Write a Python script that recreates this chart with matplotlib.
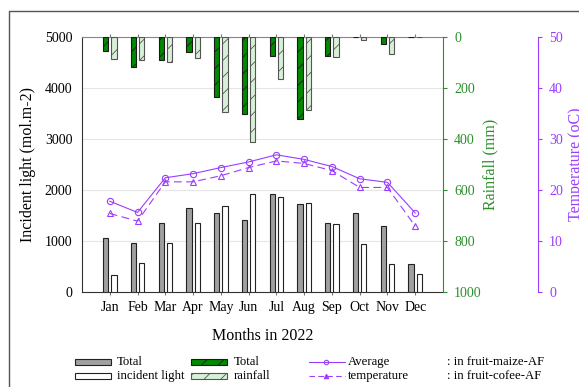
import matplotlib
matplotlib.use("Agg")
import matplotlib.pyplot as plt
from matplotlib.patches import Rectangle
from matplotlib.lines import Line2D
import numpy as np

plt.rcParams['font.family'] = 'serif'
plt.rcParams['font.serif'] = ['Liberation Serif', 'DejaVu Serif']
plt.rcParams['hatch.linewidth'] = 0.6

months = ["Jan", "Feb", "Mar", "Apr", "May", "Jun", "Jul", "Aug", "Sep", "Oct", "Nov", "Dec"]

# incident light (mol.m-2)
luz_maize = [1060, 960, 1350, 1640, 1550, 1410, 1930, 1720, 1350, 1540, 1300, 550]
luz_cofee = [340, 560, 970, 1360, 1690, 1930, 1870, 1740, 1330, 950, 550, 360]

# rainfall (mm)
chuva_maize = [55, 116, 91, 58, 234, 301, 76, 323, 73, 0, 29, 0]
chuva_cofee = [85, 90, 100, 84, 295, 410, 165, 286, 78, 12, 66, 0]

# average temperature (oC)
temp_maize = [17.8, 15.6, 22.4, 23.2, 24.4, 25.5, 26.9, 26.0, 24.6, 22.2, 21.5, 15.5]
temp_cofee = [15.4, 13.9, 21.6, 21.6, 22.8, 24.4, 25.7, 25.2, 23.8, 20.5, 20.5, 12.9]

VERDE = "#008a00"
VERDE_CLARO = "#d8f0d8"
VERDE_TXT = "#2b8f2b"
ROXO = "#9b3dff"

W, H = 579, 387
fig = plt.figure(figsize=(W / 100, H / 100), dpi=100)

def fx(px):
    return px / W

def fy(py):
    return 1 - py / H

ax = fig.add_axes([fx(82), fy(292), fx(443) - fx(82), fy(37) - fy(292)])
x = np.arange(len(months))
d = 0.15
bw = 0.19

# incident light bars
ax.bar(x - d, luz_maize, bw, color="#a0a0a0", edgecolor="#222222", linewidth=0.8, zorder=3)
ax.bar(x + d, luz_cofee, bw, color="white", edgecolor="#222222", linewidth=0.8, zorder=3)
ax.set_ylim(0, 5000)
ax.set_xlim(-1, 12)
ax.set_yticks([0, 1000, 2000, 3000, 4000, 5000])
ax.set_xticks(x)
ax.set_xticklabels(months)
ax.tick_params(axis='y', length=0, pad=7, labelsize=10)
ax.tick_params(axis='x', bottom=True, top=True, direction='out', length=2.5, color="#777777",
               pad=4, labelsize=10)
ax.grid(axis='y', color="#e6e6e6", linewidth=0.8, zorder=0)
ax.spines['top'].set_color("#888888")
ax.spines['left'].set_color("#333333")
ax.spines['bottom'].set_color("#333333")
ax.spines['right'].set_visible(False)
ax.set_ylabel("Incident light (mol.m-2)", fontsize=11.5)
ax.yaxis.set_label_coords(-0.128, 0.5)
ax.set_xlabel("Months in 2022", fontsize=11.5)
ax.xaxis.label.set_va('center')
ax.xaxis.set_label_coords(0.5, -0.1725)

# rainfall bars hanging from the top
ax2 = ax.twinx()
ax2.bar(x - d, chuva_maize, bw, color=VERDE, edgecolor="#1a1a1a", linewidth=0.8,
        hatch="//", zorder=3)
ax2.bar(x + d, chuva_cofee, bw, color=VERDE_CLARO, edgecolor="#555555", linewidth=0.8,
        hatch="//", zorder=3)
ax2.set_ylim(1000, 0)
ax2.set_yticks([0, 200, 400, 600, 800, 1000])
ax2.spines['right'].set_color(VERDE_TXT)
ax2.spines['top'].set_visible(False)
ax2.spines['left'].set_visible(False)
ax2.spines['bottom'].set_visible(False)
ax2.tick_params(axis='y', colors=VERDE_TXT, length=3, pad=5, labelsize=10)
ax2.set_ylabel("Rainfall (mm)", fontsize=11.5, color=VERDE_TXT)
ax2.yaxis.set_label_coords(1.108, 0.5)

# temperature lines on an offset axis
ax3 = ax.twinx()
ax3.spines['right'].set_position(('axes', 1.263))
ax3.spines['right'].set_color(ROXO)
for s in ['top', 'left', 'bottom']:
    ax3.spines[s].set_visible(False)
ax3.plot(x, temp_maize, color=ROXO, linewidth=0.8, marker='o', markersize=4.5,
         markerfacecolor='none', markeredgewidth=0.8)
ax3.plot(x, temp_cofee, color=ROXO, linewidth=0.8, linestyle=(0, (7, 4)), marker='^',
         markersize=4.5, markerfacecolor='none', markeredgewidth=0.8)
ax3.set_ylim(0, 50)
ax3.set_yticks([0, 10, 20, 30, 40, 50])
ax3.tick_params(axis='y', colors=ROXO, length=3, pad=5, labelsize=10)
ax3.set_ylabel("Temperature (oC)", fontsize=11.5, color=ROXO)
ax3.yaxis.set_label_coords(1.345, 0.5)

# legend below the chart
linhas = [362, 376]
leg_kw = dict(fontsize=9.2, va='center', ha='left')

def caixa(x0, x1, linha, **kw):
    fig.patches.append(Rectangle((fx(x0), fy(linha + 3)), fx(x1) - fx(x0), fy(0) - fy(6),
                                 transform=fig.transFigure, linewidth=0.8, **kw))

caixa(75, 111, linhas[0], facecolor="#a0a0a0", edgecolor="#222222")
caixa(75, 111, linhas[1], facecolor="white", edgecolor="#222222")
fig.text(fx(117), fy(linhas[0]), "Total", **leg_kw)
fig.text(fx(117), fy(linhas[1]), "incident light", **leg_kw)

caixa(191, 227, linhas[0], facecolor=VERDE, hatch="//", edgecolor="#1a1a1a")
caixa(191, 227, linhas[1], facecolor=VERDE_CLARO, hatch="//", edgecolor="#555555")
fig.text(fx(234), fy(linhas[0]), "Total", **leg_kw)
fig.text(fx(234), fy(linhas[1]), "rainfall", **leg_kw)

fig.lines.append(Line2D([fx(309), fx(345)], [fy(linhas[0]), fy(linhas[0])],
                        transform=fig.transFigure, color=ROXO, linewidth=0.8))
fig.lines.append(Line2D([fx(326)], [fy(linhas[0])], transform=fig.transFigure, color=ROXO,
                        marker='o', markersize=3.2, markerfacecolor='none', markeredgewidth=0.8))
fig.lines.append(Line2D([fx(309), fx(345)], [fy(linhas[1]), fy(linhas[1])],
                        transform=fig.transFigure, color=ROXO, linewidth=0.8,
                        linestyle=(0, (5, 3))))
fig.lines.append(Line2D([fx(326)], [fy(linhas[1])], transform=fig.transFigure, color=ROXO,
                        marker='^', markersize=3.2, markerfacecolor=ROXO, markeredgewidth=0.8))
fig.text(fx(348), fy(linhas[0]), "Average", **leg_kw)
fig.text(fx(348), fy(linhas[1]), "temperature", **leg_kw)
fig.text(fx(447), fy(linhas[0]), ": in fruit-maize-AF", **leg_kw)
fig.text(fx(447), fy(linhas[1]), ": in fruit-cofee-AF", **leg_kw)

# outer frame
fig.lines.append(Line2D([fx(9), fx(9), 1.0], [0.0, fy(11), fy(11)], transform=fig.transFigure,
                        color="#555555", linewidth=1.0))

fig.savefig("out.png", dpi=100)
